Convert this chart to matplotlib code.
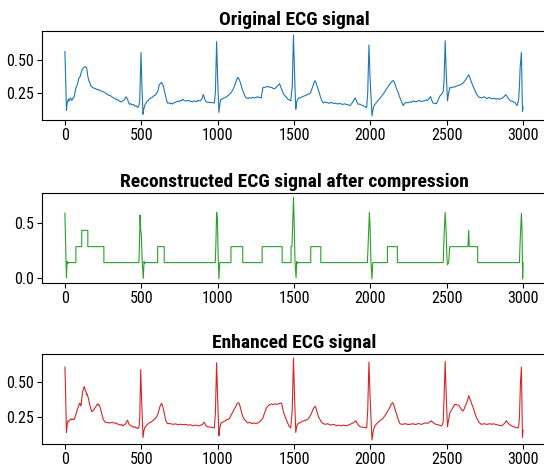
import numpy as np
import matplotlib
matplotlib.use("Agg")
import matplotlib.pyplot as plt
from matplotlib import font_manager

# the reference text looks squeezed sideways, so try a narrow face first
fonts = font_manager.fontManager.ttflist
names = {f.name for f in fonts}
stretch = 'normal'
fam = 'DejaVu Sans'
tsize, ksize = 12, 10
for cand in ['Roboto Condensed', 'Liberation Sans Narrow', 'Open Sans Condensed',
             'Noto Sans Condensed', 'DejaVu Sans Condensed']:
    if cand in names:
        fam = cand
        tsize, ksize = 14, 11.5
        break
else:
    cond = [f for f in fonts if f.name == 'DejaVu Sans' and f.stretch in ('condensed', 'semi-condensed', 600, 700)]
    if cond:
        stretch = 'condensed'
        tsize, ksize = 13, 11
plt.rcParams['font.family'] = [fam, 'DejaVu Sans']
plt.rcParams['font.stretch'] = stretch

titles = ['Original ECG signal',
          'Reconstructed ECG signal after compression',
          'Enhanced ECG signal']
colors = ['tab:blue', 'tab:green', 'tab:red']
xticks = [0, 500, 1000, 1500, 2000, 2500, 3000]
yticks = [[0.25, 0.50], [0.0, 0.5], [0.25, 0.50]]
yfmt = ['%.2f', '%.1f', '%.2f']

orig_pts = [(0,0.569),(4,0.40),(10,0.114),(15,0.17),(22,0.20),(26,0.185),(30,0.19),(35,0.21),(40,0.205),(45,0.19),
    (50,0.20),(55,0.215),(60,0.215),(66,0.25),(72,0.288),(78,0.30),(85,0.33),(92,0.365),(98,0.37),(105,0.40),
    (113,0.43),(120,0.44),(125,0.449),(135,0.452),(142,0.445),(151,0.37),(158,0.34),(165,0.32),(171,0.30),
    (177,0.296),(184,0.29),(190,0.285),(197,0.283),(203,0.28),(211,0.273),(220,0.275),(228,0.266),(240,0.262),
    (247,0.26),(255,0.255),(262,0.25),(268,0.245),(276,0.24),(285,0.23),(292,0.232),(300,0.225),(310,0.215),
    (320,0.21),(327,0.205),(334,0.199),(342,0.2),(350,0.19),(358,0.185),(367,0.178),(376,0.185),(385,0.19),
    (392,0.2),(400,0.219),(405,0.21),(410,0.20),(416,0.175),(422,0.16),(430,0.165),(440,0.155),(448,0.16),
    (460,0.145),(468,0.148),(476,0.135),(485,0.15),(490,0.20),(498,0.561),(504,0.30),(511,0.083),(516,0.12),
    (520,0.14),(525,0.16),(531,0.17),(538,0.185),(545,0.19),(553,0.2),(563,0.21),(572,0.215),(580,0.225),
    (588,0.228),(596,0.237),(603,0.25),(610,0.27),(618,0.314),(625,0.32),(633,0.331),(642,0.31),(650,0.27),
    (656,0.24),(662,0.21),(667,0.185),(672,0.17),(680,0.172),(690,0.165),(697,0.17),(705,0.162),(712,0.17),
    (720,0.175),(730,0.18),(740,0.185),(747,0.182),(755,0.19),(762,0.186),(770,0.2),(780,0.19),(790,0.185),
    (800,0.188),(810,0.19),(822,0.183),(836,0.18),(845,0.187),(855,0.185),(862,0.18),(870,0.19),(880,0.187),
    (888,0.19),(895,0.2),(900,0.215),(906,0.237),(910,0.22),(915,0.2),(923,0.18),(930,0.178),(940,0.175),
    (950,0.176),(960,0.172),(970,0.174),(978,0.17),(985,0.25),(993,0.646),(1000,0.35),(1008,0.097),(1012,0.14),
    (1015,0.17),(1022,0.2),(1030,0.2),(1040,0.21),(1050,0.212),(1058,0.22),(1065,0.225),(1072,0.232),
    (1080,0.24),(1090,0.255),(1098,0.27),(1106,0.29),(1115,0.32),(1123,0.345),(1131,0.37),(1137,0.36),
    (1142,0.35),(1148,0.33),(1153,0.31),(1160,0.28),(1170,0.25),(1178,0.225),(1186,0.21),(1193,0.208),
    (1200,0.205),(1207,0.212),(1215,0.21),(1222,0.208),(1230,0.215),(1240,0.21),(1250,0.212),(1260,0.218),
    (1270,0.215),(1278,0.212),(1285,0.21),(1290,0.25),(1296,0.29),(1303,0.29),(1310,0.292),(1318,0.296),
    (1325,0.3),(1332,0.294),(1340,0.296),(1348,0.29),(1355,0.29),(1363,0.283),(1372,0.28),(1381,0.29),
    (1390,0.3),(1398,0.31),(1405,0.32),(1410,0.305),(1415,0.29),(1421,0.27),(1427,0.25),(1434,0.235),
    (1441,0.225),(1450,0.215),(1460,0.2),(1468,0.195),(1478,0.187),(1488,0.3),(1496,0.697),(1503,0.4),
    (1511,0.122),(1516,0.165),(1520,0.19),(1529,0.21),(1537,0.208),(1545,0.215),(1555,0.218),(1565,0.225),
    (1575,0.228),(1585,0.235),(1595,0.24),(1605,0.245),(1612,0.265),(1620,0.29),(1628,0.32),(1637,0.344),
    (1643,0.33),(1648,0.31),(1654,0.29),(1659,0.27),(1667,0.24),(1675,0.21),(1683,0.185),(1692,0.17),
    (1700,0.178),(1710,0.175),(1720,0.172),(1730,0.168),(1740,0.175),(1750,0.172),(1760,0.165),(1770,0.17),
    (1779,0.165),(1790,0.163),(1800,0.168),(1810,0.162),(1820,0.16),(1832,0.164),(1845,0.158),(1855,0.156),
    (1866,0.15),(1876,0.165),(1885,0.18),(1892,0.195),(1899,0.21),(1905,0.195),(1910,0.18),(1915,0.17),
    (1920,0.16),(1930,0.162),(1940,0.155),(1950,0.15),(1960,0.145),(1968,0.14),(1975,0.135),(1982,0.25),
    (1990,0.62),(1998,0.35),(2010,0.07),(2014,0.1),(2018,0.13),(2024,0.15),(2029,0.16),(2040,0.175),
    (2050,0.19),(2060,0.205),(2073,0.225),(2084,0.24),(2095,0.26),(2105,0.28),(2116,0.30),(2125,0.315),
    (2135,0.33),(2142,0.34),(2149,0.344),(2157,0.33),(2165,0.30),(2173,0.275),(2182,0.25),(2190,0.22),
    (2200,0.19),(2207,0.17),(2214,0.15),(2224,0.168),(2235,0.175),(2247,0.172),(2260,0.18),(2270,0.176),
    (2279,0.187),(2290,0.182),(2300,0.18),(2310,0.186),(2320,0.19),(2332,0.182),(2345,0.185),(2356,0.19),
    (2367,0.195),(2374,0.19),(2380,0.20),(2387,0.21),(2393,0.22),(2398,0.205),(2402,0.19),(2406,0.178),
    (2410,0.17),(2420,0.168),(2432,0.165),(2438,0.18),(2445,0.20),(2454,0.225),(2460,0.23),(2465,0.24),
    (2470,0.245),(2476,0.26),(2482,0.35),(2489,0.653),(2496,0.40),(2504,0.187),(2512,0.25),(2519,0.29),
    (2528,0.288),(2540,0.295),(2550,0.293),(2560,0.30),(2572,0.305),(2585,0.31),(2595,0.315),(2605,0.325),
    (2617,0.34),(2628,0.36),(2636,0.375),(2643,0.39),(2650,0.37),(2658,0.34),(2665,0.32),(2672,0.30),
    (2681,0.275),(2690,0.25),(2700,0.23),(2711,0.215),(2720,0.212),(2730,0.21),(2740,0.218),(2750,0.215),
    (2757,0.208),(2765,0.205),(2774,0.213),(2783,0.21),(2791,0.203),(2800,0.205),(2810,0.208),(2820,0.2),
    (2833,0.204),(2846,0.2),(2855,0.205),(2865,0.21),(2875,0.22),(2885,0.235),(2892,0.225),(2900,0.21),
    (2908,0.198),(2916,0.187),(2925,0.185),(2935,0.18),(2948,0.17),(2960,0.15),(2965,0.175),(2970,0.20),
    (2975,0.3),(2980,0.45),(2988,0.561),(2995,0.105),(2999,0.14)]

recon_pts = [(0,0.594),(10,0.0),(14,0.15),(18,0.13),(22,0.14),(72,0.14),(72,0.287),(110,0.287),(110,0.437),
    (150,0.437),(150,0.287),(255,0.287),(255,0.14),(484,0.14),(488,0.30),(492,0.578),(496,0.44),(500,0.40),
    (506,0.15),(513,-0.005),(518,0.15),(522,0.13),(526,0.14),(607,0.14),(607,0.287),(650,0.287),(650,0.14),
    (984,0.14),(988,0.3),(993,0.603),(998,0.55),(1003,0.2),(1008,-0.01),(1013,0.14),(1087,0.14),(1087,0.287),
    (1164,0.287),(1164,0.14),(1291,0.14),(1291,0.287),(1422,0.287),(1422,0.14),(1480,0.14),(1480,0.287),
    (1486,0.287),(1490,0.45),(1496,0.743),(1500,0.55),(1506,0.15),(1513,0.0),(1517,0.15),(1520,0.13),
    (1524,0.14),(1609,0.14),(1609,0.287),(1675,0.287),(1675,0.14),(1980,0.14),(1986,0.35),(1993,0.603),
    (1998,0.45),(2003,0.15),(2010,-0.01),(2015,0.14),(2111,0.14),(2111,0.287),(2176,0.287),(2176,0.14),
    (2476,0.14),(2482,0.40),(2489,0.603),(2495,0.437),(2500,0.2),(2504,0.12),(2512,0.14),(2519,0.287),
    (2638,0.287),(2643,0.437),(2647,0.287),(2702,0.287),(2702,0.14),(2975,0.14),(2980,0.35),(2988,0.594),
    (2992,0.45),(2996,-0.01),(2999,0.14)]

enh_pts = [(0,0.607),(4,0.45),(10,0.143),(15,0.20),(21,0.226),(26,0.222),(30,0.23),(35,0.236),(39,0.24),
    (45,0.232),(50,0.235),(55,0.24),(61,0.235),(66,0.25),(72,0.27),(77,0.29),(83,0.31),(90,0.33),(94,0.345),
    (98,0.35),(105,0.33),(110,0.38),(116,0.43),(122,0.455),(127,0.469),(131,0.45),(135,0.44),(139,0.43),
    (142,0.41),(146,0.415),(150,0.40),(155,0.38),(160,0.35),(165,0.33),(171,0.305),(177,0.29),(181,0.295),
    (185,0.30),(192,0.31),(198,0.32),(205,0.33),(210,0.34),(214,0.346),(219,0.338),(223,0.34),(227,0.33),
    (231,0.32),(236,0.3),(240,0.28),(245,0.26),(250,0.24),(255,0.23),(260,0.22),(266,0.216),(272,0.212),
    (280,0.215),(290,0.21),(300,0.212),(310,0.215),(322,0.209),(334,0.21),(342,0.205),(350,0.2),(358,0.198),
    (365,0.195),(372,0.2),(378,0.19),(386,0.195),(395,0.2),(402,0.215),(410,0.23),(415,0.215),(420,0.2),
    (426,0.195),(432,0.19),(440,0.186),(450,0.18),(458,0.184),(465,0.175),(470,0.178),(476,0.17),(485,0.18),
    (490,0.25),(496,0.59),(503,0.35),(511,0.107),(515,0.14),(518,0.16),(524,0.18),(531,0.19),(540,0.2),
    (550,0.21),(562,0.215),(574,0.226),(582,0.232),(590,0.24),(598,0.25),(607,0.27),(613,0.29),(620,0.32),
    (627,0.34),(633,0.35),(638,0.335),(642,0.32),(646,0.3),(650,0.28),(655,0.255),(660,0.23),(666,0.215),
    (672,0.205),(680,0.207),(690,0.205),(700,0.203),(710,0.2),(720,0.204),(730,0.202),(740,0.198),(749,0.2),
    (760,0.201),(770,0.198),(780,0.2),(790,0.2),(800,0.197),(810,0.195),(822,0.198),(836,0.19),(848,0.194),
    (860,0.195),(870,0.19),(880,0.19),(890,0.195),(900,0.2),(907,0.21),(913,0.216),(919,0.2),(925,0.19),
    (934,0.183),(942,0.182),(950,0.18),(958,0.181),(965,0.178),(972,0.177),(978,0.175),(985,0.28),
    (993,0.638),(1000,0.38),(1008,0.12),(1012,0.16),(1015,0.18),(1022,0.21),(1030,0.215),(1040,0.22),
    (1050,0.226),(1060,0.235),(1068,0.236),(1076,0.24),(1083,0.255),(1090,0.27),(1100,0.29),(1109,0.31),
    (1115,0.32),(1120,0.33),(1126,0.345),(1131,0.354),(1136,0.352),(1140,0.35),(1146,0.33),(1153,0.3),
    (1160,0.27),(1167,0.25),(1175,0.235),(1181,0.228),(1187,0.22),(1197,0.21),(1204,0.212),(1210,0.215),
    (1218,0.21),(1225,0.205),(1232,0.208),(1240,0.21),(1246,0.207),(1252,0.205),(1261,0.21),(1270,0.215),
    (1278,0.222),(1285,0.23),(1291,0.238),(1296,0.245),(1303,0.27),(1310,0.29),(1315,0.305),(1320,0.32),
    (1329,0.33),(1337,0.338),(1345,0.343),(1353,0.345),(1362,0.34),(1371,0.345),(1380,0.345),(1388,0.342),
    (1395,0.345),(1405,0.35),(1412,0.352),(1419,0.35),(1424,0.32),(1430,0.29),(1438,0.265),(1447,0.24),
    (1456,0.215),(1466,0.19),(1472,0.182),(1478,0.175),(1488,0.30),(1496,0.671),(1503,0.40),(1511,0.143),
    (1515,0.17),(1518,0.19),(1524,0.2),(1529,0.21),(1537,0.21),(1545,0.215),(1552,0.222),(1560,0.225),
    (1570,0.228),(1580,0.23),(1587,0.236),(1594,0.24),(1602,0.255),(1610,0.27),(1618,0.29),(1625,0.31),
    (1631,0.32),(1637,0.33),(1641,0.32),(1645,0.31),(1650,0.29),(1655,0.27),(1662,0.25),(1670,0.235),
    (1677,0.22),(1685,0.21),(1694,0.205),(1703,0.2),(1711,0.203),(1720,0.205),(1730,0.2),(1740,0.195),
    (1750,0.198),(1760,0.2),(1770,0.195),(1779,0.19),(1790,0.195),(1800,0.192),(1810,0.19),(1820,0.195),
    (1832,0.193),(1845,0.19),(1855,0.195),(1866,0.2),(1876,0.205),(1885,0.21),(1895,0.218),(1905,0.226),
    (1911,0.21),(1918,0.2),(1925,0.19),(1931,0.183),(1940,0.182),(1950,0.18),(1958,0.179),(1965,0.178),
    (1970,0.176),(1975,0.175),(1982,0.30),(1990,0.643),(1998,0.38),(2010,0.09),(2014,0.12),(2018,0.15),
    (2023,0.17),(2029,0.19),(2037,0.2),(2045,0.21),(2055,0.22),(2065,0.23),(2075,0.238),(2084,0.245),
    (2092,0.258),(2100,0.27),(2108,0.285),(2115,0.3),(2121,0.31),(2127,0.32),(2132,0.335),(2137,0.345),
    (2145,0.355),(2150,0.345),(2155,0.33),(2160,0.31),(2166,0.29),(2173,0.265),(2180,0.24),(2186,0.222),
    (2193,0.205),(2201,0.202),(2210,0.2),(2220,0.204),(2230,0.205),(2244,0.2),(2258,0.2),(2269,0.203),
    (2280,0.205),(2290,0.2),(2300,0.2),(2310,0.206),(2320,0.205),(2332,0.2),(2345,0.205),(2355,0.21),
    (2365,0.21),(2375,0.208),(2385,0.215),(2392,0.22),(2399,0.226),(2407,0.215),(2415,0.21),(2422,0.204),
    (2430,0.2),(2440,0.198),(2450,0.195),(2458,0.193),(2465,0.19),(2471,0.2),(2476,0.22),(2482,0.40),
    (2489,0.647),(2496,0.40),(2504,0.183),(2508,0.21),(2512,0.24),(2519,0.28),(2527,0.295),(2535,0.31),
    (2543,0.325),(2552,0.343),(2558,0.342),(2565,0.34),(2572,0.338),(2580,0.333),(2587,0.32),(2593,0.31),
    (2600,0.3),(2606,0.295),(2613,0.31),(2620,0.33),(2626,0.345),(2632,0.36),(2638,0.38),(2643,0.405),
    (2649,0.385),(2655,0.37),(2663,0.345),(2672,0.32),(2681,0.29),(2690,0.26),(2697,0.24),(2705,0.226),
    (2710,0.215),(2715,0.21),(2720,0.205),(2726,0.2),(2735,0.203),(2745,0.205),(2755,0.202),(2765,0.2),
    (2775,0.204),(2785,0.205),(2793,0.2),(2802,0.205),(2811,0.202),(2820,0.2),(2830,0.198),(2840,0.195),
    (2848,0.193),(2857,0.19),(2866,0.197),(2875,0.205),(2883,0.215),(2890,0.226),(2897,0.215),(2905,0.205),
    (2913,0.198),(2922,0.19),(2933,0.186),(2945,0.18),(2955,0.178),(2966,0.175),(2971,0.2),(2975,0.25),
    (2982,0.50),(2988,0.607),(2995,0.107),(2999,0.16)]

series = [np.array(orig_pts), np.array(recon_pts), np.array(enh_pts)]

W, H = 544, 466
fig = plt.figure(figsize=(W/100, H/100), dpi=100)
# axes boxes in pixels: (top, bottom); right edge runs a bit past the image
boxes = [(31, 120), (193, 283), (354, 444)]
left, width = 42, 504

for i in range(3):
    top, bot = boxes[i]
    ax = fig.add_axes([left/W, (H-bot)/H, width/W, (bot-top)/H])
    d = series[i]
    ax.plot(d[:, 0], d[:, 1], color=colors[i], lw=0.8)
    ax.set_title(titles[i], fontsize=tsize, fontweight='bold', pad=4)
    ax.set_xticks(xticks)
    ax.set_yticks(yticks[i])
    ax.yaxis.set_major_formatter(matplotlib.ticker.FormatStrFormatter(yfmt[i]))
    ax.tick_params(labelsize=ksize, pad=2.5)

fig.savefig('out.png', dpi=100)
